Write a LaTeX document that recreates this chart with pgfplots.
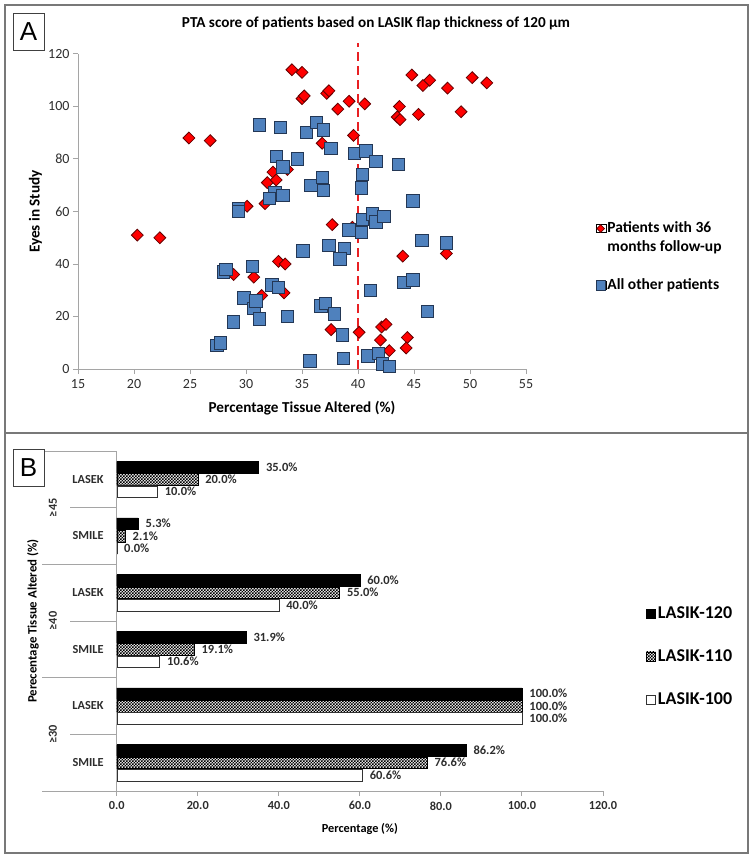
\documentclass[border=0pt]{standalone}
\usepackage{pgfplots}
\pgfplotsset{compat=1.18}
\usepackage{fontspec}
\setmainfont{Carlito}
\newfontfamily\arialfont{Liberation Sans}
\usetikzlibrary{patterns}
\pgfdeclarepatternformonly{finecheck}{\pgfqpoint{-.1pt}{-.1pt}}{\pgfqpoint{3.1pt}{3.1pt}}{\pgfqpoint{3pt}{3pt}}{%
  \pgfpathrectangle{\pgfqpoint{0pt}{0pt}}{\pgfqpoint{1.5pt}{1.5pt}}%
  \pgfpathrectangle{\pgfqpoint{1.5pt}{1.5pt}}{\pgfqpoint{1.5pt}{1.5pt}}%
  \pgfusepath{fill}}
\definecolor{mblue}{RGB}{79,129,189}
\definecolor{mblueedge}{RGB}{35,55,85}
\definecolor{mred}{RGB}{255,0,0}
\definecolor{mrededge}{RGB}{100,0,0}
\definecolor{dline}{RGB}{232,32,35}
\definecolor{axgray}{RGB}{165,165,165}
\definecolor{framegray}{RGB}{120,120,120}
\definecolor{ticktext}{RGB}{45,45,45}

\begin{document}
\begin{tikzpicture}
\path (0pt,0pt) rectangle (753pt,-858pt);
\draw[framegray, line width=1.5pt] (5pt,-5pt) rectangle (748pt,-433pt);
\draw[framegray, line width=1.5pt] (5pt,-433pt) rectangle (748pt,-853pt);

% ---------------- Panel A ----------------
\begin{axis}[
  at={(78pt,-369pt)}, anchor=south west,
  scale only axis, width=448pt, height=315pt,
  xmin=15, xmax=55, ymin=0, ymax=120,
  xtick={15,20,...,55}, ytick={0,20,...,120},
  axis x line=bottom, axis y line=left,
  axis line style={axgray, line width=1pt, -},
  tick style={axgray, line width=1pt},
  major tick length=5pt,
  tick align=outside,
  /pgf/number format/assume math mode=true,
  ticklabel style={font=\fontsize{14}{16}\selectfont, text=ticktext},
  xticklabel style={yshift=-2pt},
  clip=false,
  title={PTA score of patients based on LASIK flap thickness of 120 µm},
  title style={font=\bfseries\fontsize{15.2}{18}\selectfont, at={(axis description cs:0.6652,1.079)}, anchor=center},
  xlabel={Percentage Tissue Altered (\%)},
  xlabel style={font=\bfseries\fontsize{15.2}{18}\selectfont, at={(axis description cs:0.5,-0.124)}, anchor=center},
  ylabel={Eyes in Study},
  ylabel style={font=\bfseries\fontsize{15.2}{18}\selectfont, at={(axis description cs:-0.095,0.5)}, anchor=center},
  legend style={at={(1.148,0.483)}, anchor=north west, draw=none, fill=none, row sep=0pt,
     font=\bfseries\fontsize{15.5}{18}\selectfont,
     nodes={text height=11pt, text depth=3pt, inner ysep=2.5pt, inner xsep=1.5pt}},
  legend cell align=left,
  legend image code/.code={\path (0pt,-4pt) rectangle (10pt,4pt); \draw[#1] plot coordinates {(5pt,0pt)};},
]
\addplot[forget plot, only marks, mark=square*, mark size=4.2pt,
  mark options={rotate=45, fill=mred, draw=mrededge, line width=0.8pt}] coordinates {
(34.1,114) (35.0,113) (35.0,103) (35.2,104) (37.2,105) (37.4,106) (38.2,99) (39.2,102) (40.6,101) (39.6,89)
(44.8,112) (45.8,108) (46.4,110) (48.0,107) (50.2,111) (51.5,109) (43.7,100) (43.5,96) (43.75,95) (45.4,97) (49.2,98)
(24.9,88) (26.8,87) (36.8,86) (32.4,75) (33.7,76) (31.9,71) (32.7,72) (30.1,62) (31.7,63)
(20.3,51) (22.3,50) (37.7,55) (39.5,54)
(28.9,36) (30.7,35) (32.9,41) (33.5,40) (31.4,28) (33.4,29)
(37.6,15) (40.1,14) (44.0,43) (47.9,44) (42.1,16) (42.5,17) (42.0,11) (44.4,12) (42.8,7) (44.3,8)
};
\addplot[forget plot, only marks, mark=square*, mark size=6.2pt,
  mark options={fill=mblue, draw=mblueedge, line width=0.9pt}] coordinates {
(31.2,93) (33.1,92) (35.4,90) (36.3,94) (36.9,91) (37.6,84) (32.7,81) (34.6,80) (33.3,77) (39.7,82) (40.7,83) (41.6,79) (43.6,78)
(35.8,70) (36.8,73) (36.9,68) (40.4,74) (40.3,69)
(29.3,61) (29.3,60) (32.6,67) (32.1,65) (33.3,66) (44.9,64)
(35.1,45) (37.4,47) (38.8,46) (38.4,42) (39.2,53) (40.3,52) (40.4,57) (41.3,59) (41.6,56) (42.3,58) (45.7,49) (47.9,48)
(28.0,37) (28.2,38) (30.6,39) (29.8,27) (30.7,23) (30.9,26) (32.3,32) (32.9,31) (28.9,18) (31.2,19) (33.7,20)
(36.7,24) (37.1,25) (37.9,21) (27.4,9) (27.7,10) (38.6,13) (35.7,3) (38.7,4) (41.1,30) (44.1,33) (44.9,34) (46.2,22)
(40.9,5) (41.8,6) (42.2,2) (42.8,1)
};
\addplot[forget plot, dline, line width=2.6pt, dash pattern=on 9pt off 5pt] coordinates {(40,0) (40,124)};
\addlegendimage{only marks, mark=square*, mark size=2.7pt, mark options={rotate=45, fill=mred, draw=mrededge, line width=0.7pt}}
\addlegendentry{Patients with 36}
\addlegendimage{empty legend}
\addlegendentry{months follow-up}
\addlegendimage{empty legend}
\addlegendentry{}
\addlegendimage{only marks, mark=square*, mark size=4.7pt, mark options={fill=mblue, draw=mblueedge, line width=0.8pt}}
\addlegendentry{All other patients}
\end{axis}

\draw[black!75, line width=0.8pt, fill=white] (13pt,-13pt) rectangle (44pt,-50pt);
\node[font=\arialfont\fontsize{26}{30}\selectfont] at (28.5pt,-31.5pt) {A};

% ---------------- Panel B ----------------
\begin{axis}[
  at={(116.7pt,-791pt)}, anchor=south west,
  scale only axis, width=486.3pt, height=340pt,
  xmin=0, xmax=120, ymin=-0.5, ymax=5.5,
  xbar, bar width=11.5pt,
  xtick={0,20,...,120}, xticklabels={0.0,20.0,40.0,60.0,80.0,100.0,120.0},
  ytick={0,...,5}, yticklabels={SMILE,LASEK,SMILE,LASEK,SMILE,LASEK},
  axis x line=bottom, axis y line=left,
  axis line style={axgray, line width=1pt, -},
  x tick style={axgray, line width=1pt}, y tick style={draw=none},
  major tick length=5pt, tick align=outside,
  xticklabel style={font=\bfseries\fontsize{12.3}{14}\selectfont, text=ticktext, yshift=-2pt},
  yticklabel style={font=\bfseries\fontsize{12.3}{14}\selectfont, text=ticktext, xshift=-4.5pt},
  point meta=x,
  nodes near coords={\pgfmathprintnumber[fixed,fixed zerofill,precision=1]{\pgfplotspointmeta}\%},
  nodes near coords style={font=\bfseries\fontsize{12.5}{14}\selectfont, text=ticktext, anchor=west, xshift=4pt},
  /pgf/number format/assume math mode=true,
  clip=false,
  xlabel={Percentage (\%)},
  xlabel style={font=\bfseries\fontsize{12.3}{14}\selectfont, at={(axis description cs:0.5,-0.112)}, anchor=center},
  ylabel={Perecentage Tissue Altered (\%)},
  ylabel style={font=\bfseries\fontsize{12.8}{15}\selectfont, at={(axis description cs:-0.172,0.5)}, anchor=center},
  legend style={at={(1.082,0.556)}, anchor=north west, draw=none, fill=none, row sep=24pt,
     font=\bfseries\fontsize{18}{21}\selectfont,
     nodes={text height=12pt, text depth=3pt, inner ysep=2pt, inner xsep=2pt}},
  legend cell align=left,
  legend image code/.code={\draw[#1, line width=0.6pt] (0pt,-4.7pt) rectangle (9.3pt,4.7pt);},
]
\addplot[fill=black, draw=black, bar shift=12.3pt] coordinates {(86.2,0) (100,1) (31.9,2) (60,3) (5.3,4) (35,5)};
\addplot[pattern=finecheck, pattern color=black, draw=black, bar shift=0pt] coordinates {(76.6,0) (100,1) (19.1,2) (55,3) (2.1,4) (20,5)};
\addplot[fill=white, draw=black!80, bar shift=-12.3pt] coordinates {(60.6,0) (100,1) (10.6,2) (40,3) (0,4) (10,5)};
\legend{LASIK-120,LASIK-110,LASIK-100}
\end{axis}

\foreach \yy in {451,564.3,677.7,791} {\draw[axgray, line width=1pt] (42pt,-\yy pt) -- (116.7pt,-\yy pt);}
\foreach \yy in {507.7,621,734.3} {\draw[axgray, line width=1pt] (70pt,-\yy pt) -- (116.7pt,-\yy pt);}
\node[rotate=90, font=\bfseries\fontsize{12.3}{14}\selectfont, text=ticktext] at (53pt,-507.7pt) {≥45};
\node[rotate=90, font=\bfseries\fontsize{12.3}{14}\selectfont, text=ticktext] at (53pt,-621pt) {≥40};
\node[rotate=90, font=\bfseries\fontsize{12.3}{14}\selectfont, text=ticktext] at (53pt,-734.3pt) {≥30};

\draw[black!75, line width=0.8pt, fill=white] (13pt,-449pt) rectangle (44pt,-486pt);
\node[font=\arialfont\fontsize{26}{30}\selectfont] at (28.5pt,-467.5pt) {B};
\end{tikzpicture}
\end{document}
